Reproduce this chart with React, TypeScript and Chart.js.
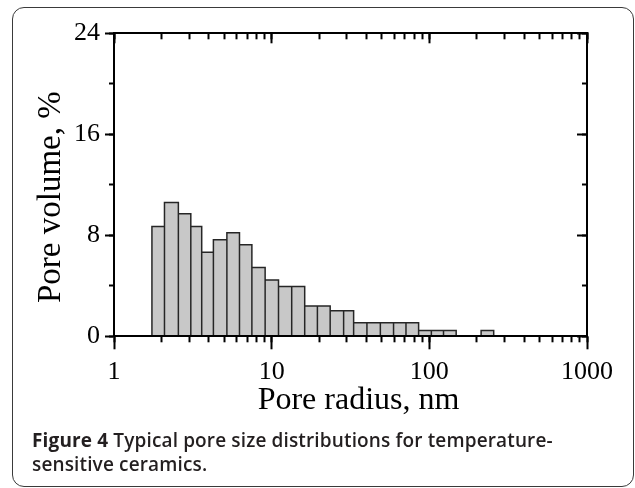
import React, { useEffect, useRef } from 'react';
import { Chart, registerables } from 'chart.js';

Chart.register(...registerables);

// ---- data ----
// histogram bin edges (pore radius, nm) and pore volume (%) per bin
const binEdges = [1.74, 2.09, 2.56, 3.07, 3.6, 4.27, 5.2, 6.25, 7.49, 9.09, 11.05, 13.4, 16.2, 19.5, 23.5, 28.6, 33.1, 40.2, 48.9, 59.3, 71.1, 85.5, 103, 123, 148, 178, 213, 256];
const poreVolume = [8.7, 10.6, 9.7, 8.7, 6.65, 7.65, 8.2, 7.25, 5.45, 4.45, 3.95, 3.95, 2.4, 2.4, 2.02, 2.02, 1.08, 1.08, 1.08, 1.08, 1.08, 0.45, 0.45, 0.45, 0, 0, 0.45];

const xMajorTicks = [1, 10, 100, 1000];
const xMinorSteps = [2, 3, 4, 5, 6, 7, 8, 9];
const yAllTicks = [0, 4, 8, 12, 16, 20, 24];
const yMajorTicks = [0, 8, 16, 24];
const xTitle = 'Pore radius, nm';
const yTitle = 'Pore volume, %';
const captionBold = 'Figure 4';
const captionLine1 = ' Typical pore size distributions for temperature-';
const captionLine2 = 'sensitive ceramics.';

const xAllTicks: number[] = [];
xMajorTicks.forEach((d, i) => {
  xAllTicks.push(d);
  if (i < xMajorTicks.length - 1) xMinorSteps.forEach((s) => xAllTicks.push(d * s));
});

const SERIF = "'Liberation Serif', 'Times New Roman', serif";
const AXIS = '#000';

function setTicks(values: number[]) {
  return (scale: any) => {
    scale.ticks = values.map((v) => ({ value: v }));
  };
}

export default function App() {
  const ref = useRef<HTMLCanvasElement | null>(null);

  useEffect(() => {
    if (!ref.current) return;
    const outline: { x: number; y: number }[] = [];
    poreVolume.forEach((v, i) => {
      if (v <= 0) return;
      outline.push(
        { x: binEdges[i], y: 0 },
        { x: binEdges[i], y: v },
        { x: binEdges[i + 1], y: v },
        { x: binEdges[i + 1], y: 0 }
      );
    });

    const gridBase = { drawOnChartArea: false, drawTicks: true, tickWidth: 2, tickColor: AXIS };
    const hiddenTicks = { display: false };

    const chart = new Chart(ref.current, {
      type: 'line',
      data: {
        datasets: [
          {
            data: outline,
            borderColor: '#262626',
            borderWidth: 1.5,
            backgroundColor: '#c8c8c8',
            fill: 'origin',
            pointRadius: 0,
            tension: 0,
            borderJoinStyle: 'miter',
          } as any,
        ],
      },
      options: {
        responsive: false,
        animation: false,
        devicePixelRatio: 1,
        layout: { padding: { left: 0, right: 48, top: 33.3, bottom: 0 } },
        plugins: { legend: { display: false }, tooltip: { enabled: false } },
        scales: {
          x: {
            type: 'logarithmic',
            position: 'bottom',
            min: 1,
            max: 1000,
            afterBuildTicks: setTicks(xAllTicks),
            afterFit: (s: any) => { s.height = 103.7; },
            grid: { ...gridBase, tickLength: 6 },
            border: { display: true, width: 2, color: AXIS, z: 1 },
            ticks: {
              autoSkip: false,
              maxRotation: 0,
              minRotation: 0,
              padding: 14,
              color: '#000',
              font: { family: SERIF, size: 26 },
              callback: (v: any) => (xMajorTicks.includes(Number(v)) ? String(v) : ''),
            },
            title: {
              display: true,
              text: '  ' + xTitle,
              color: '#000',
              font: { family: SERIF, size: 32 },
              padding: { top: 0, bottom: 20 },
            },
          },
          xMajor: {
            type: 'logarithmic',
            position: 'bottom',
            weight: -1,
            min: 1,
            max: 1000,
            afterBuildTicks: setTicks(xMajorTicks),
            afterFit: (s: any) => { s.height = 0; },
            grid: { ...gridBase, tickLength: 13 },
            border: { display: false },
            ticks: hiddenTicks,
          },
          xTop: {
            type: 'logarithmic',
            position: 'top',
            min: 1,
            max: 1000,
            afterBuildTicks: setTicks(xAllTicks),
            afterFit: (s: any) => { s.height = 0; },
            grid: { ...gridBase, tickLength: -6 },
            border: { display: true, width: 2, color: AXIS, z: 1 },
            ticks: hiddenTicks,
          },
          xTopMajor: {
            type: 'logarithmic',
            position: 'top',
            min: 1,
            max: 1000,
            afterBuildTicks: setTicks(xMajorTicks),
            afterFit: (s: any) => { s.height = 0; },
            grid: { ...gridBase, tickLength: -10 },
            border: { display: false },
            ticks: hiddenTicks,
          },
          y: {
            type: 'linear',
            position: 'left',
            min: 0,
            max: 24,
            afterBuildTicks: setTicks(yAllTicks),
            afterFit: (s: any) => { s.width = 114; },
            grid: { ...gridBase, tickLength: 5 },
            border: { display: true, width: 2, color: AXIS, z: 1 },
            ticks: {
              autoSkip: false,
              padding: 9,
              color: '#000',
              font: { family: SERIF, size: 26 },
              callback: (v: any) => (yMajorTicks.includes(Number(v)) ? String(v) : ''),
            },
            title: {
              display: true,
              text: yTitle + '   ',
              color: '#000',
              font: { family: SERIF, size: 33 },
              padding: { top: 32, bottom: 0 },
            },
          },
          yMajor: {
            type: 'linear',
            position: 'left',
            weight: -1,
            min: 0,
            max: 24,
            afterBuildTicks: setTicks(yMajorTicks),
            afterFit: (s: any) => { s.width = 0; },
            grid: { ...gridBase, tickLength: 9 },
            border: { display: false },
            ticks: hiddenTicks,
          },
          yRight: {
            type: 'linear',
            position: 'right',
            min: 0,
            max: 24,
            afterBuildTicks: setTicks(yAllTicks),
            afterFit: (s: any) => { s.width = 0; },
            grid: { ...gridBase, tickLength: -5 },
            border: { display: true, width: 2, color: AXIS, z: 1 },
            ticks: hiddenTicks,
          },
          yRightMajor: {
            type: 'linear',
            position: 'right',
            min: 0,
            max: 24,
            afterBuildTicks: setTicks(yMajorTicks),
            afterFit: (s: any) => { s.width = 0; },
            grid: { ...gridBase, tickLength: -10 },
            border: { display: false },
            ticks: hiddenTicks,
          },
        } as any,
      },
    });
    return () => chart.destroy();
  }, []);

  return (
    <div style={{ position: 'absolute', left: 0, top: 0, width: 635, height: 488, background: '#fff', overflow: 'hidden' }}>
      <div
        style={{
          position: 'absolute',
          left: 12,
          top: 7,
          width: 622,
          height: 480,
          boxSizing: 'border-box',
          border: '1.5px solid #3a3a3a',
          borderRadius: 12,
        }}
      />
      <canvas
        ref={ref}
        width={635}
        height={440}
        style={{ position: 'absolute', left: 0, top: 0, width: 635, height: 440, display: 'block' }}
      />
      <div
        style={{
          position: 'absolute',
          left: 32,
          top: 428,
          fontFamily: "'Open Sans', 'Noto Sans', sans-serif",
          fontSize: 19,
          lineHeight: '24px',
          color: '#231f20',
          whiteSpace: 'nowrap',
          fontWeight: 600,
          letterSpacing: '0.14px',
        }}
      >
        <span style={{ fontWeight: 700 }}>{captionBold}</span>
        <span>{captionLine1}</span>
        <br />
        <span>{captionLine2}</span>
      </div>
    </div>
  );
}
